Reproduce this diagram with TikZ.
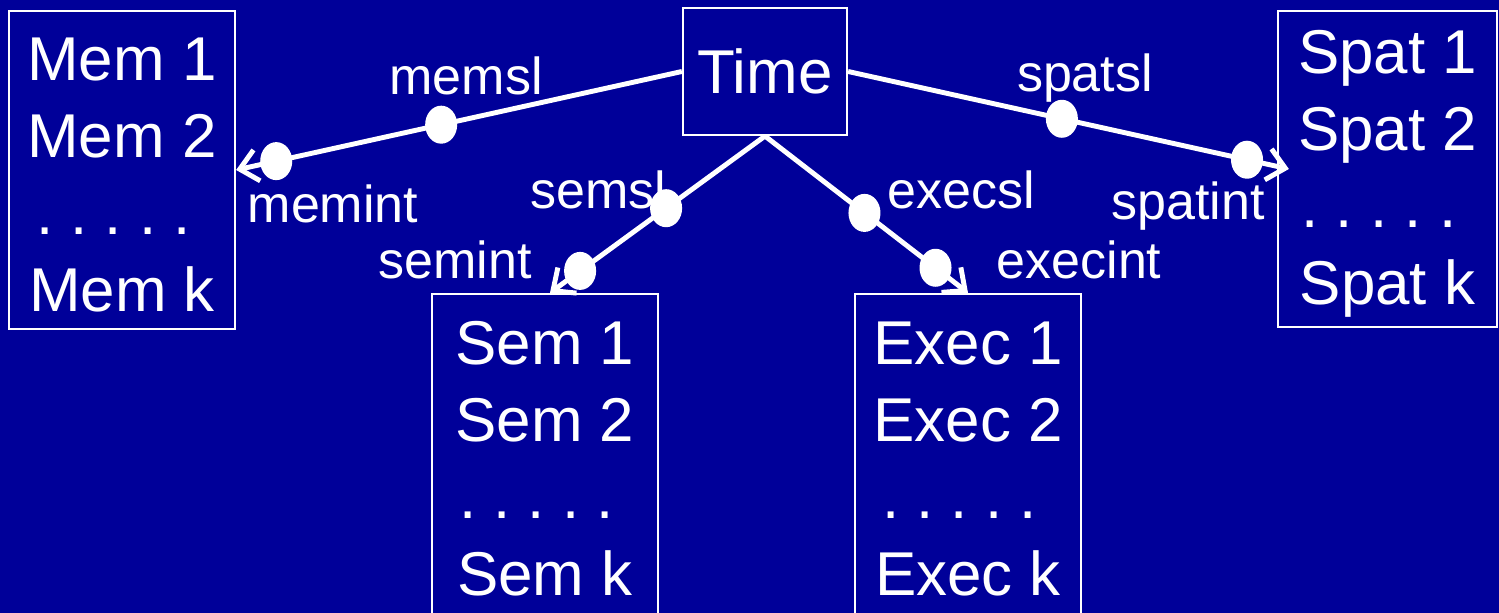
\documentclass[tikz,border=0pt]{standalone}
\usepackage{fontspec}
\setmainfont{Liberation Sans}
\usetikzlibrary{arrows.meta,shapes.geometric}
\definecolor{slideblue}{RGB}{0,0,153}
\newcommand{\topstrut}{\rule{0pt}{0.52cm}}
\tikzset{
  unitbox/.style={draw=white, line width=0.6pt, text=white, align=center, inner sep=0pt,
    font=\fontsize{17.6}{21.9}\selectfont\frenchspacing},
  link/.style={white, line width=1.4pt, -{Straight Barb[length=5pt,width=9pt]}},
  knob/.style={ellipse, fill=white, minimum width=0.32cm, minimum height=0.38cm, inner sep=0pt},
  lbl/.style={text=white, font=\fontsize{14.8}{16}\selectfont}
}
\begin{document}
\begin{tikzpicture}[x=0.01cm,y=-0.01cm]
% fondo
\fill[slideblue] (0,0) rectangle (1499,613);
\useasboundingbox (0,0) rectangle (1499,613);
% cajas
\node[unitbox, minimum width=1.64cm, minimum height=1.27cm] (time) at (765,71.5) {Time};
\node[unitbox, minimum width=2.26cm, minimum height=3.18cm] (mem) at (122,170)
  {\topstrut Mem 1\\Mem 2\\. . . . .\phantom{.}\\Mem k};
\node[unitbox, minimum width=2.26cm, minimum height=3.20cm] (sem) at (545,454)
  {\topstrut Sem 1\\Sem 2\\. . . . .\phantom{.}\\Sem k};
\node[unitbox, minimum width=2.26cm, minimum height=3.20cm] (exec) at (968,454)
  {\topstrut Exec 1\\Exec 2\\. . . . .\phantom{.}\\Exec k};
\node[unitbox, minimum width=2.19cm, minimum height=3.16cm] (spat) at (1387.5,169)
  {\topstrut Spat 1\\Spat 2\\. . . . .\phantom{.}\\Spat k};
% flechas con nudos
\draw[link] (time.west) -- node[knob,pos=0.54] (memdot1) {} node[knob,pos=0.91] (memdot2) {} (mem.east);
\draw[link] (time.south) -- node[knob,pos=0.46] (semdot1) {} node[knob,pos=0.86] (semdot2) {} ([xshift=0.05cm]sem.north);
\draw[link] (time.south) -- node[knob,pos=0.49] (execdot1) {} node[knob,pos=0.84] (execdot2) {} (exec.north);
\draw[link] (time.east) -- node[knob,pos=0.485] (spatdot1) {} node[knob,pos=0.905] (spatdot2) {} ([xshift=0.12cm]spat.west);
% etiquetas
\node[lbl] (memsl) at (466,76) {memsl};
\node[lbl] (memint) at (333,204) {memint};
\node[lbl] (semsl) at (598,190) {semsl};
\node[lbl] (semint) at (455,260) {semint};
\node[lbl] (execsl) at (961,190) {execsl};
\node[lbl] (execint) at (1079,260) {execint};
\node[lbl] (spatsl) at (1085,78) {spatsl};
\node[lbl] (spatint) at (1188,206) {spatint};
\end{tikzpicture}
\end{document}
